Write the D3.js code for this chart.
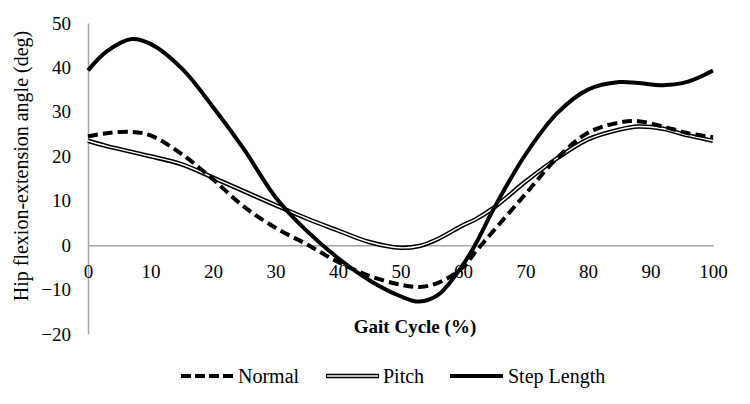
<!DOCTYPE html>
<html>
<head>
	<meta charset="utf-8">
	<title>Hip flexion-extension</title>
	<script src="https://cdn.jsdelivr.net/npm/d3@7"></script>
	<style>
		body { margin: 0; background: #fff; }
	</style>
</head>
<body>
	<div id="chart"></div>
	<script>
		// data
		const gait = [0, 3, 7, 10, 15, 20, 25, 30, 35, 40, 45, 50, 53, 56, 60, 62, 65, 70, 75, 80, 85, 88, 92, 96, 100];
		const normal = [24.5, 25.2, 25.5, 24.7, 20.5, 14.8, 8.6, 3.9, 0.2, -3.8, -6.9, -8.9, -9.4, -8.5, -5.0, -1.5, 3.4, 11.5, 19.5, 25.3, 27.6, 27.9, 26.7, 25.2, 24.3];
		const pitch = [23.5, 22.3, 21.0, 20.0, 18.2, 15.2, 12.1, 9.0, 6.0, 3.3, 0.7, -0.6, -0.2, 1.4, 4.5, 5.8, 8.5, 14.3, 19.5, 23.8, 26.0, 26.7, 26.2, 24.7, 23.5];
		const stepLength = [39.3, 43.6, 46.4, 45.3, 39.8, 31.1, 21.5, 10.8, 3.2, -2.9, -7.9, -11.5, -12.7, -11.2, -4.4, 0.2, 8.4, 20.4, 29.6, 35.0, 36.7, 36.5, 36.0, 36.8, 39.3];
		const xTicks = [0, 10, 20, 30, 40, 50, 60, 70, 80, 90, 100];
		const yTicks = [-20, -10, 0, 10, 20, 30, 40, 50];
		const seriesNames = ["Normal", "Pitch", "Step Length"];

		const width = 750, height = 404;
		const tickSize = "19px";
		const labelSize = "20px";
		const serif = '"Liberation Serif", monospace';
		const axisColor = "#a6a6a6";

		const svg = d3.select("#chart").append("svg")
			.attr("width", width)
			.attr("height", height);

		const x = d3.scaleLinear([0, 100], [88, 713]);
		const y = d3.scaleLinear([-20, 50], [334, 23]);

		const styleText = g => g.selectAll("text")
			.style("font-family", serif)
			.style("font-size", tickSize)
			.attr("fill", "#000");

		// y axis
		svg.append("g")
			.attr("transform", `translate(${x(0)},0)`)
			.call(d3.axisLeft(y).tickValues(yTicks).tickSize(0).tickPadding(17))
			.call(g => g.select(".domain").attr("stroke", axisColor).attr("stroke-width", 1.5))
			.call(styleText);

		// x axis on the zero line
		svg.append("g")
			.attr("transform", `translate(0,${y(0)})`)
			.call(d3.axisBottom(x).tickValues(xTicks).tickSize(0).tickPadding(19))
			.call(g => g.select(".domain").attr("stroke", axisColor).attr("stroke-width", 1.5))
			.call(styleText);

		const line = d3.line()
			.x(i => x(gait[i]))
			.curve(d3.curveCatmullRom.alpha(0.5));
		const I = d3.range(gait.length);

		// pitch: double line
		svg.append("path")
			.attr("fill", "none").attr("stroke", "#000").attr("stroke-width", 4.5)
			.attr("d", line.y(i => y(pitch[i]))(I));
		svg.append("path")
			.attr("fill", "none").attr("stroke", "#fff").attr("stroke-width", 1.4)
			.attr("d", line.y(i => y(pitch[i]))(I));

		// normal: dashed
		svg.append("path")
			.attr("fill", "none").attr("stroke", "#000").attr("stroke-width", 4)
			.attr("stroke-dasharray", "10,5")
			.attr("d", line.y(i => y(normal[i]))(I));

		// step length: thick solid
		svg.append("path")
			.attr("fill", "none").attr("stroke", "#000").attr("stroke-width", 4)
			.attr("d", line.y(i => y(stepLength[i]))(I));

		// axis titles
		svg.append("text")
			.attr("transform", `translate(28,166) rotate(-90)`)
			.attr("text-anchor", "middle")
			.style("font-family", serif)
			.style("font-size", labelSize)
			.text("Hip flexion-extension angle (deg)");

		svg.append("text")
			.attr("x", 415).attr("y", 333)
			.attr("text-anchor", "middle")
			.style("font-family", serif)
			.style("font-weight", "bold")
			.style("font-size", tickSize)
			.text("Gait Cycle (%)");

		// legend
		const legendY = 376;
		const legend = [
			{ name: seriesNames[0], x0: 181, x1: 233, tx: 238 },
			{ name: seriesNames[1], x0: 326, x1: 379, tx: 383 },
			{ name: seriesNames[2], x0: 450, x1: 503, tx: 508 },
		];
		legend.forEach((d, k) => {
			if (k === 1) {
				svg.append("line").attr("x1", d.x0).attr("x2", d.x1).attr("y1", legendY).attr("y2", legendY)
					.attr("stroke", "#000").attr("stroke-width", 4.5);
				svg.append("line").attr("x1", d.x0 + 1).attr("x2", d.x1 - 1).attr("y1", legendY).attr("y2", legendY)
					.attr("stroke", "#fff").attr("stroke-width", 1.4);
			} else {
				svg.append("line").attr("x1", d.x0).attr("x2", d.x1).attr("y1", legendY).attr("y2", legendY)
					.attr("stroke", "#000").attr("stroke-width", 4)
					.attr("stroke-dasharray", k === 0 ? "10,4" : null);
			}
			svg.append("text")
				.attr("x", d.tx).attr("y", legendY + 7)
				.style("font-family", serif)
				.style("font-size", labelSize)
				.text(d.name);
		});
	</script>
</body>
</html>
